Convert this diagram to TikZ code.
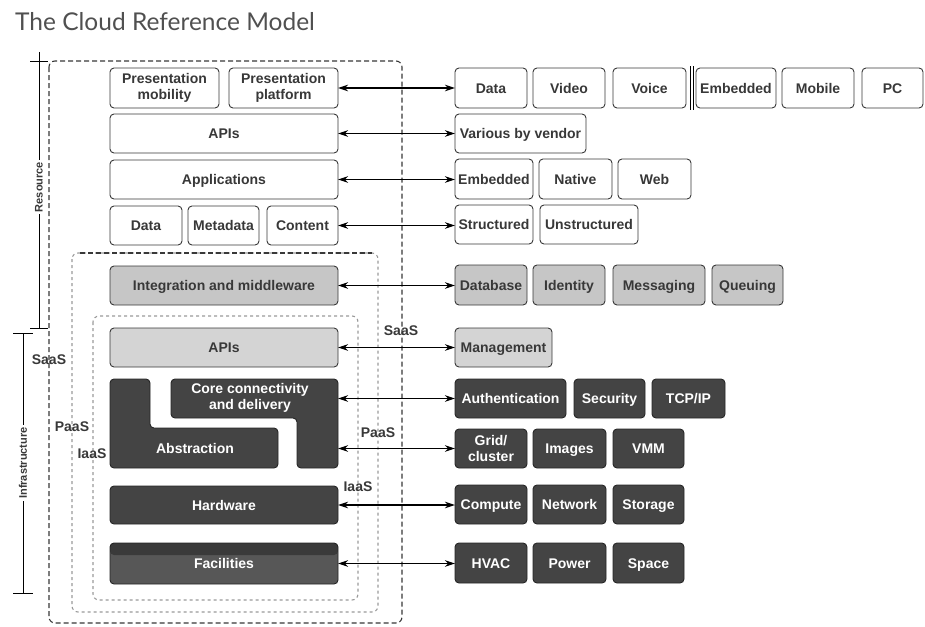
\documentclass[tikz,border=0pt]{standalone}
\usepackage{fontspec}
\setmainfont{Liberation Sans}
\newfontfamily\labfont{Liberation Sans}
\newfontfamily\titlefont{Lato}
\usetikzlibrary{arrows.meta}

\definecolor{ink}{HTML}{383838}
\definecolor{titlegray}{HTML}{505050}
\definecolor{midg}{HTML}{C6C6C6}
\definecolor{paleg}{HTML}{D4D4D4}
\definecolor{darkg}{HTML}{444444}
\definecolor{facg}{HTML}{575757}
\definecolor{bandg}{HTML}{3A3A3A}
\definecolor{dashg}{HTML}{9A9A9A}

\tikzset{
  box/.style={draw=ink, line width=0.9pt, rounded corners=4pt, inner sep=0pt,
    outer sep=0pt, align=center, text=ink, text height=10pt, text depth=0pt,
    font=\labfont\bfseries\fontsize{14}{16}\selectfont},
  twoline/.style={text height=, text depth=},
  wbox/.style={box, fill=white},
  gbox/.style={box, fill=midg},
  pbox/.style={box, fill=paleg},
  dbox/.style={box, fill=darkg, draw=black!85, text=white},
  facbox/.style={dbox, fill=facg,
    path picture={\fill[bandg] (path picture bounding box.north west)
      rectangle ([yshift=-12pt]path picture bounding box.north east);}},
  lshape/.style={fill=darkg, draw=black!85, line width=0.9pt, rounded corners=4pt},
  shapetext/.style={align=center, text=white, inner sep=0pt,
    font=\labfont\bfseries\fontsize{14}{16}\selectfont},
  link/.style={{Stealth[length=10pt,width=6.5pt]}-{Stealth[length=10pt,width=6.5pt]},
    line width=1.2pt, draw=black},
  tag/.style={font=\labfont\bfseries\fontsize{14}{15}\selectfont, text=ink,
    inner sep=1pt},
  sidetag/.style={font=\labfont\bfseries\fontsize{11}{12}\selectfont, text=ink,
    rotate=90, fill=white, inner sep=2pt},
  outerdash/.style={draw=ink, line width=1.1pt, dash pattern=on 5pt off 3pt,
    rounded corners=6pt},
  innerdash/.style={draw=dashg, line width=1.1pt, dash pattern=on 3pt off 3pt,
    rounded corners=6pt},
  scale bar/.style={draw=black, line width=1pt},
}

% box by its corners: style, name, x1, y1, x2, y2, text
\newcommand{\cellbox}[7]{%
  \node[#1, minimum width={(#5)-(#3)}, minimum height={(#6)-(#4)}]
    (#2) at ({((#3)+(#5))/2},{((#4)+(#6))/2}) {#7};}

\begin{document}
\begin{tikzpicture}[x=1pt, y=-1pt]
\useasboundingbox (0,0) rectangle (925,626);

% title
\node[anchor=base west, inner sep=0pt, text=titlegray,
  font=\titlefont\fontsize{24.5}{26}\selectfont] (title) at (15,31)
  {The Cloud Reference Model};

% scope brackets on the far left
\draw[scale bar] (39,52) -- (39,328);
\draw[scale bar] (30,61) -- (48,61);
\draw[scale bar] (30,328) -- (48,328);
\node[sidetag] (resource) at (39,187) {Resource};
\draw[scale bar] (23,333) -- (23,593);
\draw[scale bar] (13,333) -- (33,333);
\draw[scale bar] (13,593) -- (33,593);
\node[sidetag] (infra) at (23,463) {Infrastructure};

% nested service boundaries
\draw[outerdash] (49,61) rectangle (402,623);
\draw[innerdash] (72,253) rectangle (378,612);
\draw[ink, line width=1.1pt, dash pattern=on 5pt off 3pt] (80,253) -- (372,253);
\draw[innerdash] (93,316) rectangle (358,600);

% left stack
\cellbox{wbox,twoline}{pm}{110}{68}{219}{108}{Presentation\\mobility}
\cellbox{wbox,twoline}{pp}{229}{68}{338}{108}{Presentation\\platform}
\cellbox{wbox}{apis}{110}{114}{338}{153}{APIs}
\cellbox{wbox}{apps}{110}{160}{338}{199}{Applications}
\cellbox{wbox}{data}{110}{206}{182}{245}{Data}
\cellbox{wbox}{meta}{188}{206}{259}{245}{Metadata}
\cellbox{wbox}{cont}{267}{206}{338}{245}{Content}
\cellbox{gbox}{integ}{110}{266}{338}{305}{Integration and middleware}
\cellbox{pbox}{apis2}{110}{328}{338}{367}{APIs}

% interlocking abstraction / connectivity blocks
\draw[lshape] (110,379) -- (150,379) -- (150,428) -- (278,428) -- (278,468)
  -- (110,468) -- cycle;
\draw[lshape] (171,379) -- (338,379) -- (338,468) -- (297,468) -- (297,418)
  -- (171,418) -- cycle;
\node[shapetext] (core) at (250,398) {Core connectivity\\and delivery};
\node[shapetext, text height=10pt, text depth=0pt] (abs) at (195,448) {Abstraction};
\coordinate (coreE) at (338,398.5);
\coordinate (absE) at (338,448.5);

\cellbox{dbox}{hw}{110}{486}{338}{524}{Hardware}
\cellbox{facbox}{fac}{110}{543}{338}{584}{Facilities}

% service labels
\node[tag] (saasL) at (49,360) {SaaS};
\node[tag] (paasL) at (72,427) {PaaS};
\node[tag] (iaasL) at (92,454) {IaaS};
\node[tag] (saasR) at (401,331) {SaaS};
\node[tag] (paasR) at (378,433) {PaaS};
\node[tag] (iaasR) at (358,487) {IaaS};

% right-hand examples
\cellbox{wbox}{rdata}{455}{68}{527}{108}{Data}
\cellbox{wbox}{video}{533}{68}{605}{108}{Video}
\cellbox{wbox}{voice}{613}{68}{686}{108}{Voice}
\cellbox{wbox}{embd}{696}{68}{776}{108}{Embedded}
\cellbox{wbox}{mobile}{782}{68}{854}{108}{Mobile}
\cellbox{wbox}{pc}{862}{68}{923}{108}{PC}
\draw[black, line width=1pt] (690,66) -- (690,110) (693,66) -- (693,110);

\cellbox{wbox}{vendor}{455}{114}{586}{153}{Various by vendor}

\cellbox{wbox}{aemb}{455}{159}{533}{199}{Embedded}
\cellbox{wbox}{native}{539}{159}{612}{199}{Native}
\cellbox{wbox}{web}{618}{159}{691}{199}{Web}

\cellbox{wbox}{struct}{455}{205}{533}{244}{Structured}
\cellbox{wbox}{unstruct}{540}{205}{638}{244}{Unstructured}

\cellbox{gbox}{db}{455}{265}{527}{305}{Database}
\cellbox{gbox}{ident}{533}{265}{605}{305}{Identity}
\cellbox{gbox}{msg}{613}{265}{705}{305}{Messaging}
\cellbox{gbox}{queue}{712}{265}{783}{305}{Queuing}

\cellbox{pbox}{mgmt}{455}{328}{552}{367}{Management}

\cellbox{dbox}{auth}{455}{379}{566}{418}{Authentication}
\cellbox{dbox}{sec}{574}{379}{645}{418}{Security}
\cellbox{dbox}{tcp}{652}{379}{725}{418}{TCP/IP}

\cellbox{dbox,twoline}{grid}{455}{429}{527}{468}{Grid/\\cluster}
\cellbox{dbox}{img}{533}{429}{606}{468}{Images}
\cellbox{dbox}{vmm}{613}{429}{684}{468}{VMM}

\cellbox{dbox}{comp}{455}{485}{527}{524}{Compute}
\cellbox{dbox}{net}{533}{485}{606}{524}{Network}
\cellbox{dbox}{stor}{613}{485}{684}{524}{Storage}

\cellbox{dbox}{hvac}{455}{543}{527}{583}{HVAC}
\cellbox{dbox}{power}{533}{543}{606}{583}{Power}
\cellbox{dbox}{space}{613}{543}{684}{583}{Space}

% connectors
\draw[link] (pp.east) -- (pp.east -| rdata.west);
\draw[link] (apis.east) -- (apis.east -| vendor.west);
\draw[link] (apps.east) -- (apps.east -| aemb.west);
\draw[link] (cont.east) -- (cont.east -| struct.west);
\draw[link] (integ.east) -- (integ.east -| db.west);
\draw[link] (apis2.east) -- (apis2.east -| mgmt.west);
\draw[link] (coreE) -- (coreE -| auth.west);
\draw[link] (absE) -- (absE -| grid.west);
\draw[link] (hw.east) -- (hw.east -| comp.west);
\draw[link] (fac.east) -- (fac.east -| hvac.west);
\end{tikzpicture}
\end{document}
